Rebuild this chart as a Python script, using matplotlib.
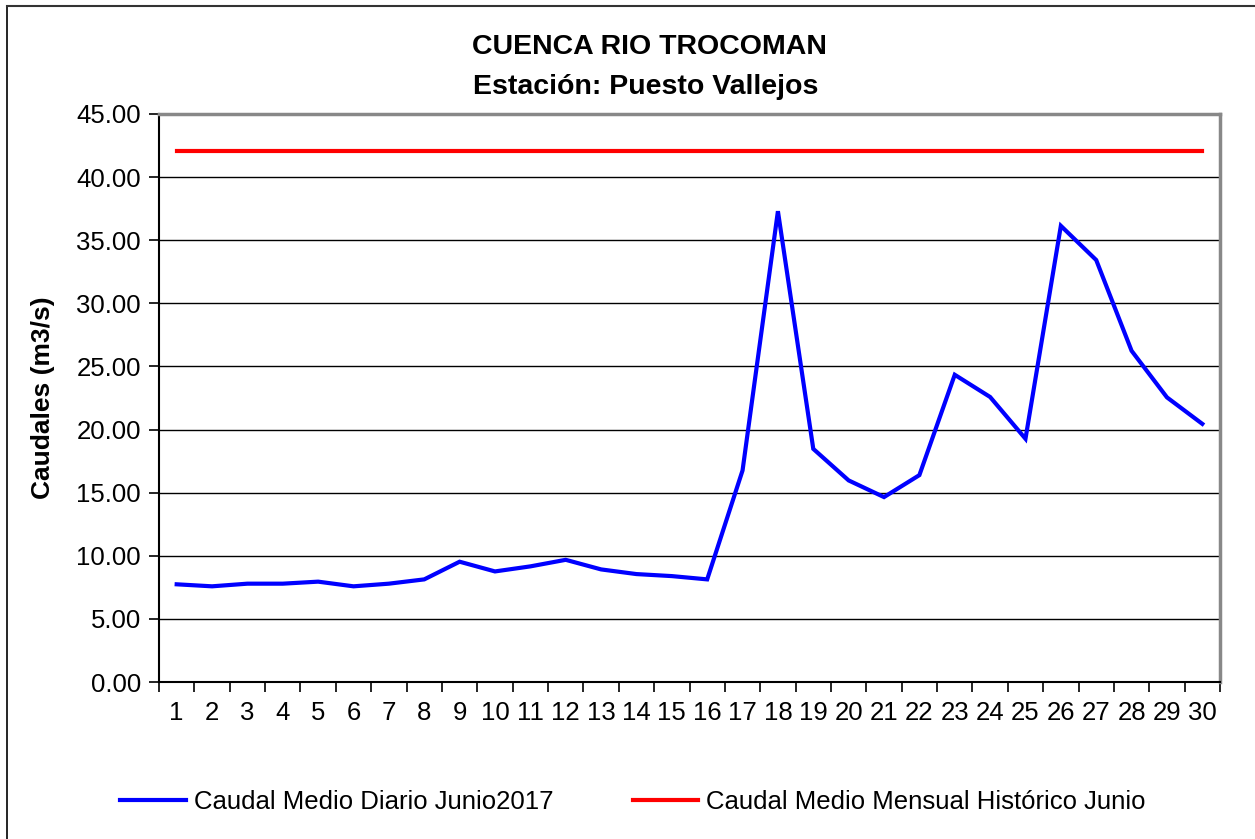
import matplotlib
matplotlib.use("Agg")
import matplotlib.pyplot as plt
from matplotlib.lines import Line2D

plt.rcParams['font.family'] = ['Liberation Sans', 'DejaVu Sans']

days = list(range(1, 31))
day_labels = [str(d) for d in days]
daily_flow = [7.74, 7.58, 7.79, 7.79, 7.95, 7.58, 7.79, 8.13, 9.53, 8.76,
              9.16, 9.68, 8.92, 8.55, 8.39, 8.13, 16.76, 37.3, 18.47, 15.97,
              14.65, 16.39, 24.34, 22.58, 19.27, 36.14, 33.43, 26.24, 22.55, 20.45]
historic_mean = 42.05
yticks = [0, 5, 10, 15, 20, 25, 30, 35, 40, 45]

W, H = 1255, 839
fig = plt.figure(figsize=(W / 100, H / 100), dpi=100)
ax = fig.add_axes([159 / W, 1 - 682 / H, (1220 - 159) / W, (682 - 114) / H])

ax.plot(days, daily_flow, color='#0000ff', lw=3.0, solid_joinstyle='miter',
        label='Caudal Medio Diario Junio2017', zorder=3)
ax.plot(days, [historic_mean] * len(days), color='#ff0000', lw=3.0,
        label='Caudal Medio Mensual Histórico Junio', zorder=3)

ax.set_xlim(0.5, 30.5)
ax.set_ylim(0, 45)
ax.set_yticks(yticks)
ax.set_yticklabels([f'{v:.2f}' for v in yticks], fontsize=18.5)
ax.set_xticks(days)
ax.set_xticklabels(day_labels, fontsize=18.5)
ax.set_xticks([d + 0.5 for d in [0] + days], minor=True)
ax.tick_params(axis='x', which='major', length=0, pad=14)
ax.tick_params(axis='x', which='minor', length=7, width=1.2, direction='out', color='black')
ax.tick_params(axis='y', length=7, width=1.2, direction='out', pad=6)

for v in yticks[1:-1]:
    ax.axhline(v, color='black', lw=1.0, zorder=1)

for s in ['left', 'bottom']:
    ax.spines[s].set_color('black')
    ax.spines[s].set_linewidth(1.5)
for s in ['top', 'right']:
    ax.spines[s].set_color('#888888')
    ax.spines[s].set_linewidth(2.5)

ax.set_ylabel('Caudales (m3/s)', fontsize=19, fontweight='bold', labelpad=15)

fig.text(649 / W, 1 - 47 / H, 'CUENCA RIO TROCOMAN', ha='center', va='center',
         fontsize=20.5, fontweight='bold')
fig.text(646 / W, 1 - 87 / H, 'Estación: Puesto Vallejos', ha='center', va='center',
         fontsize=20.5, fontweight='bold')

fig.legend(loc='center', bbox_to_anchor=(633 / W, 1 - 802 / H), ncol=2, frameon=False,
           fontsize=18.5, handlelength=2.55, handletextpad=0.3, columnspacing=3.1)

# chart border (partially cropped in the reference)
fig.add_artist(Line2D([7 / W, 7 / W], [0, 1 - 6 / H], transform=fig.transFigure,
                      color='black', lw=1.2))
fig.add_artist(Line2D([7 / W, 1], [1 - 6 / H, 1 - 6 / H], transform=fig.transFigure,
                      color='#333333', lw=1.5))

fig.savefig('out.png', dpi=100)
